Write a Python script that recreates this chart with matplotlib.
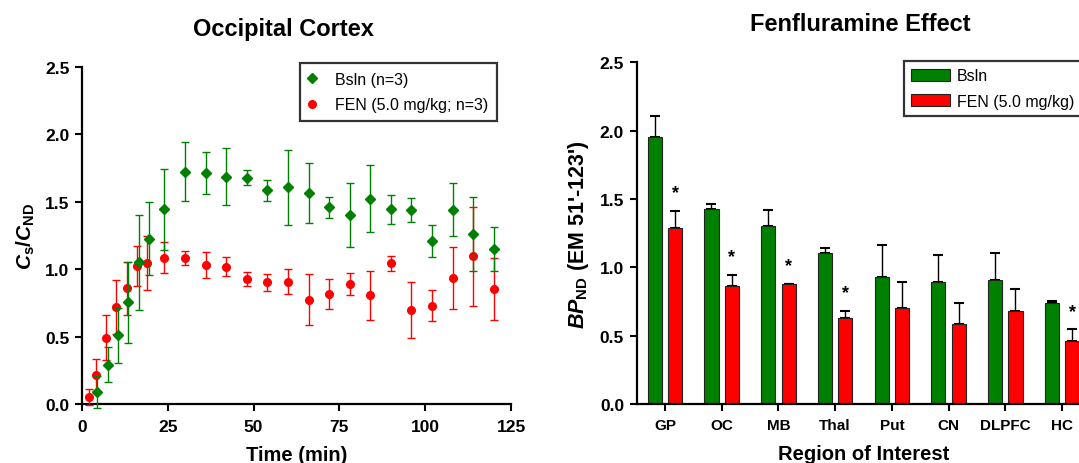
import numpy as np
import matplotlib
matplotlib.use("Agg")
import matplotlib.pyplot as plt
from matplotlib.ticker import FormatStrFormatter

plt.rcParams['font.family'] = ['Liberation Sans', 'DejaVu Sans']
plt.rcParams['mathtext.fontset'] = 'custom'
plt.rcParams['mathtext.rm'] = 'Liberation Sans:bold'
plt.rcParams['mathtext.bf'] = 'Liberation Sans:bold'
plt.rcParams['mathtext.it'] = 'Liberation Sans:bold:italic'

# time-activity curves, occipital cortex
bsln_t = [4.5, 7.5, 10.5, 13.5, 16.5, 19.5, 24, 30, 36, 42, 48, 54, 60, 66,
          72, 78, 84, 90, 96, 102, 108, 114, 120]
bsln_v = [0.09, 0.29, 0.51, 0.756, 1.05, 1.227, 1.443, 1.724, 1.712, 1.687,
          1.678, 1.584, 1.609, 1.565, 1.458, 1.399, 1.522, 1.443, 1.436,
          1.21, 1.441, 1.26, 1.153]
bsln_e = [0.12, 0.13, 0.205, 0.30, 0.35, 0.27, 0.30, 0.22, 0.155, 0.21,
          0.057, 0.078, 0.278, 0.222, 0.078, 0.238, 0.249, 0.107, 0.089,
          0.121, 0.197, 0.274, 0.163]

fen_t = [2, 4, 7, 10, 13, 16, 19, 24, 30, 36, 42, 48, 54, 60, 66, 72, 78,
         84, 90, 96, 102, 108, 114, 120]
fen_v = [0.049, 0.214, 0.493, 0.717, 0.857, 1.022, 1.044, 1.084, 1.084,
         1.032, 1.018, 0.926, 0.904, 0.907, 0.774, 0.815, 0.892, 0.806,
         1.044, 0.697, 0.727, 0.931, 1.096, 0.85]
fen_e = [0.06, 0.12, 0.17, 0.20, 0.197, 0.148, 0.20, 0.115, 0.05, 0.096,
         0.072, 0.05, 0.063, 0.094, 0.187, 0.112, 0.083, 0.182, 0.056, 0.21,
         0.115, 0.23, 0.366, 0.23]

# regional BPND
regions = ['GP', 'OC', 'MB', 'Thal', 'Put', 'CN', 'DLPFC', 'HC']
bp_bsln = [1.955, 1.427, 1.305, 1.105, 0.931, 0.89, 0.909, 0.741]
bp_bsln_err = [0.154, 0.034, 0.114, 0.034, 0.235, 0.202, 0.193, 0.015]
bp_fen = [1.29, 0.866, 0.878, 0.627, 0.705, 0.585, 0.678, 0.459]
bp_fen_err = [0.122, 0.08, 0.0, 0.053, 0.187, 0.154, 0.161, 0.087]
signif = [True, True, True, True, False, False, False, True]

GREEN = '#008000'
RED = '#ff0000'

fig = plt.figure(figsize=(10.79, 4.64), dpi=100)
ax1 = fig.add_axes([0.076, 0.1272, 0.3976, 0.7262])
ax2 = fig.add_axes([0.590, 0.1272, 0.4205, 0.7364])

for ax in (ax1, ax2):
    ax.spines['top'].set_visible(False)
    ax.spines['right'].set_visible(False)
    for s in ('left', 'bottom'):
        ax.spines[s].set_linewidth(1.6)
    ax.tick_params(direction='out', length=5, width=1.5, labelsize=12.5, pad=4)
    ax.set_ylim(0, 2.5)
    ax.set_yticks(np.arange(0, 2.51, 0.5))
    ax.yaxis.set_major_formatter(FormatStrFormatter('%.1f'))

# left panel
ax1.errorbar(fen_t, fen_v, yerr=fen_e, fmt='o', color=RED, ms=5.5,
             elinewidth=1, capsize=3, capthick=1, label='FEN (5.0 mg/kg; n=3)',
             clip_on=False, zorder=3)
ax1.errorbar(bsln_t, bsln_v, yerr=bsln_e, fmt='D', color=GREEN, ms=5,
             elinewidth=1, capsize=3, capthick=1, label='Bsln (n=3)',
             clip_on=False, zorder=4)
ax1.set_xlim(0, 125)
ax1.set_xticks([0, 25, 50, 75, 100, 125])
ax1.tick_params(axis='x', pad=6)
for lab in ax1.get_yticklabels() + ax1.get_xticklabels():
    lab.set_fontweight('bold')
ax1.set_xlabel('Time (min)', fontsize=14.5, fontweight='bold', labelpad=8)
ax1.set_ylabel(r'$C_\mathrm{s}/C_\mathrm{ND}$', fontsize=15, labelpad=6)
fig.text(0.263, 0.936, 'Occipital Cortex', fontsize=17, fontweight='bold',
         ha='center', va='center')

h, l = ax1.get_legend_handles_labels()
leg1 = ax1.legend([hh[0] for hh in h[::-1]], l[::-1], loc='upper left',
                  bbox_to_anchor=(0.278, 0.862), bbox_transform=fig.transFigure,
                  fontsize=11.5, frameon=True, fancybox=False, edgecolor='black',
                  handletextpad=1.25, borderpad=0.55, labelspacing=0.65,
                  handlelength=0.4, borderaxespad=0)
leg1.get_frame().set_linewidth(1.6)

# right panel
x = np.arange(len(regions))
w = 0.25
off = 0.18
ax2.bar(x - off, bp_bsln, w, color=GREEN, edgecolor='#222222', linewidth=0.8,
        label='Bsln', zorder=2)
ax2.bar(x + off, bp_fen, w, color=RED, edgecolor='#222222', linewidth=0.8,
        label='FEN (5.0 mg/kg)', zorder=2)
ax2.errorbar(x - off, bp_bsln, yerr=[np.zeros(len(x)), bp_bsln_err], fmt='none',
             ecolor='black', elinewidth=1, capsize=3.5, capthick=1.5, zorder=1)
ax2.errorbar(x + off, bp_fen, yerr=[np.zeros(len(x)), bp_fen_err], fmt='none',
             ecolor='black', elinewidth=1, capsize=3.5, capthick=1.5, zorder=1)
for xi, v, e, s in zip(x, bp_fen, bp_fen_err, signif):
    if s:
        ax2.text(xi + off, v + e + 0.07, '*', ha='center', va='bottom',
                 fontsize=13, fontweight='bold')
ax2.set_xlim(-0.5, 7.5)
ax2.set_xticks(x)
ax2.set_xticklabels(regions, fontsize=11, fontweight='bold')
ax2.tick_params(axis='x', pad=5)
for lab in ax2.get_yticklabels():
    lab.set_fontweight('bold')
ax2.set_xlabel('Region of Interest', fontsize=14.5, fontweight='bold',
               labelpad=9)
ax2.set_ylabel(r"$BP_\mathrm{ND}$ (EM 51'-123')", fontsize=15.5,
               fontweight='bold', labelpad=6)
fig.text(0.797, 0.947, 'Fenfluramine Effect', fontsize=17, fontweight='bold',
         ha='center', va='center')
leg2 = ax2.legend(loc='upper left', bbox_to_anchor=(0.838, 0.866),
                  bbox_transform=fig.transFigure, fontsize=11.5, frameon=True,
                  fancybox=False, edgecolor='black', handlelength=2.4,
                  handleheight=0.8, handletextpad=0.45, borderpad=0.45,
                  labelspacing=0.65, borderaxespad=0)
leg2.get_frame().set_linewidth(1.6)

fig.savefig('out.png', dpi=100)
